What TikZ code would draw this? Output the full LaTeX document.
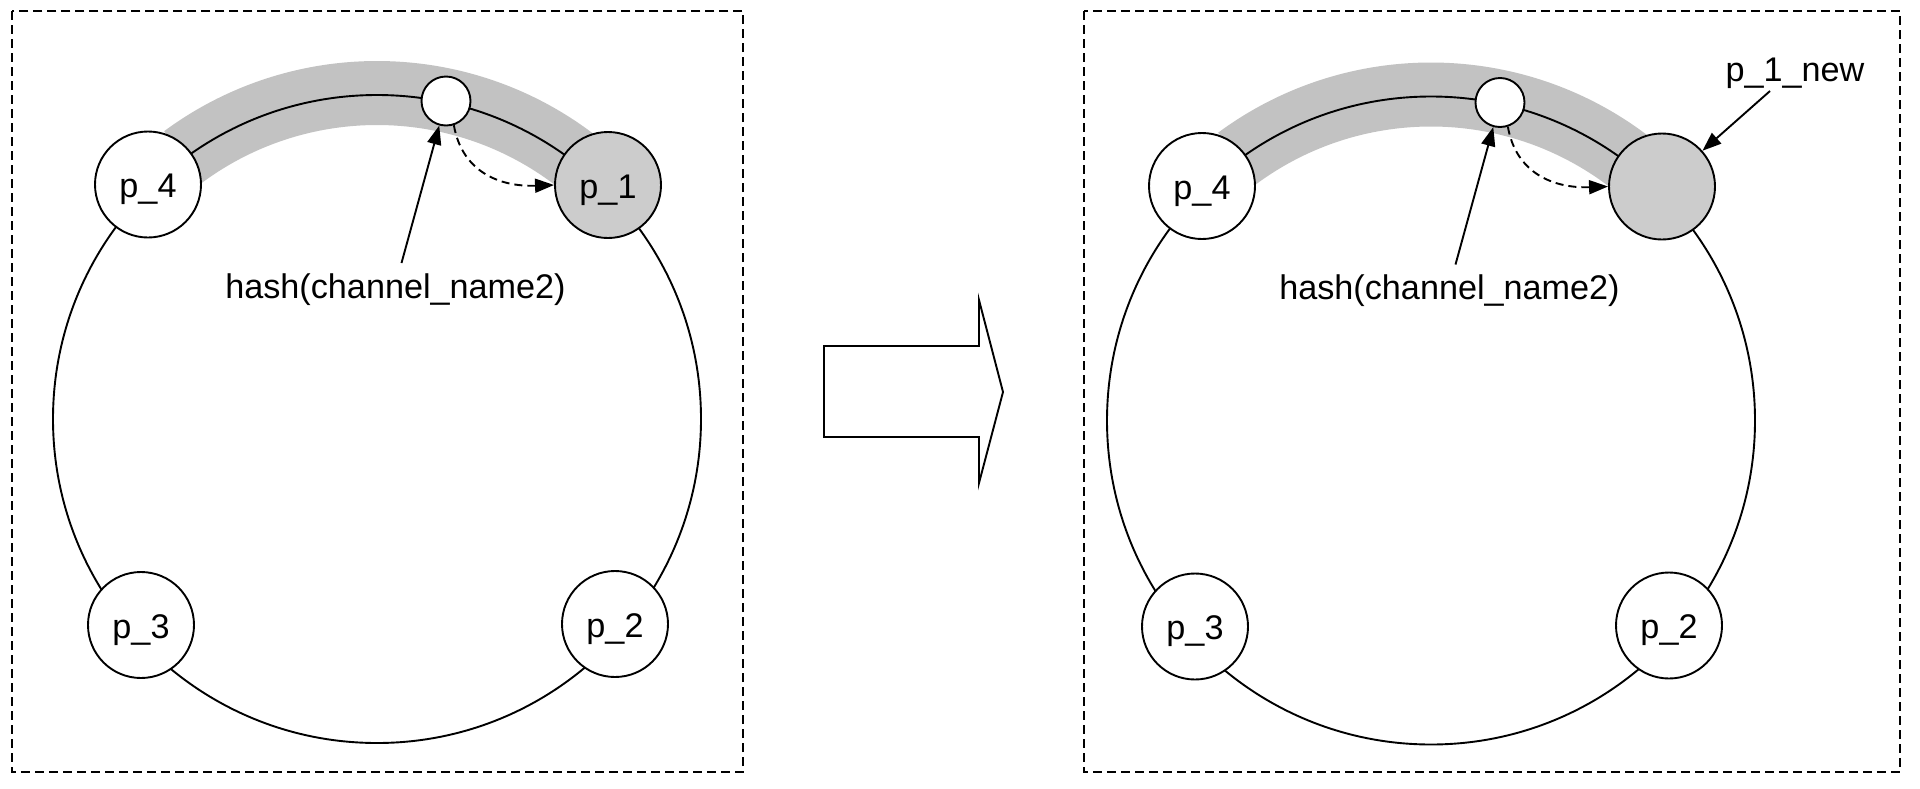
\documentclass[tikz,border=0pt]{standalone}
\usepackage{fontspec}
\setmainfont{Liberation Sans}
\usetikzlibrary{arrows.meta,calc}
\definecolor{bandgray}{RGB}{194,194,194}
\definecolor{nodegray}{RGB}{204,204,204}
\tikzset{
 frame/.style={draw, line width=1.9pt, dash pattern=on 9pt off 5pt},
 ring/.style={draw, line width=1.9pt},
 pnode/.style={circle, draw, line width=1.9pt, fill=white, minimum size=106pt, inner sep=0pt, text height=26pt, text depth=0pt, font=\fontsize{34.2}{40}\selectfont},
 hnode/.style={circle, draw, line width=1.9pt, fill=white, minimum size=49pt, inner sep=0pt},
 band/.style={draw=bandgray, line width=64pt},
 lbl/.style={font=\fontsize{34.2}{40}\selectfont, inner sep=0pt, anchor=base},
 arr/.style={-{Triangle[length=19pt,width=14pt]}, line width=1.9pt},
 darr/.style={arr, dash pattern=on 8pt off 5pt},
 bigarrow/.style={draw, line width=1.9pt, line join=miter},
}
\begin{document}
\begin{tikzpicture}[x=1pt,y=-1pt]
\useasboundingbox (0,0) rectangle (1920,788);
% ---------- left panel ----------
\draw[frame] (11.7,11) rectangle (743.3,771.7);
\coordinate (c1) at (377,419);
\draw[band] ($(c1)+(-126.5:326)$) arc[start angle=-126.5, end angle=-53, radius=326];
\draw[ring] (c1) circle[radius=324];
\node[pnode] (p4) at (148,184.5) {p\_4};
\node[pnode, fill=nodegray] (p1) at (608,185) {p\_1};
\node[pnode] (p3) at (141,625) {p\_3};
\node[pnode] (p2) at (615,624) {p\_2};
\node[hnode] (s1) at (446,101) {};
\node[lbl] (h1lab) at (395.5,298) {hash(channel\_name2)};
\coordinate (h1) at (401.5,263);
\draw[arr] (h1) -- (s1);
\draw[darr] (s1.-72) .. controls (462,172) and (500,187) .. (p1.west);
% ---------- big arrow ----------
\draw[bigarrow] (824,346) -- (979,346) -- (979,300) -- (1003,392) -- (979,483) -- (979,437) -- (824,437) -- cycle;
% ---------- right panel ----------
\draw[frame] (1083.7,11) rectangle (1900,771.7);
\begin{scope}[shift={(1054,1.5)}]
\coordinate (c2) at (377,419);
\draw[band] ($(c2)+(-126.5:326)$) arc[start angle=-126.5, end angle=-53, radius=326];
\draw[ring] (c2) circle[radius=324];
\node[pnode] (q4) at (148,184.5) {p\_4};
\node[pnode, fill=nodegray] (q1) at (608,185) {};
\node[pnode] (q3) at (141,625) {p\_3};
\node[pnode] (q2) at (615,624) {p\_2};
\node[hnode] (s2) at (446,101) {};
\node[lbl] (h2lab) at (395.5,298) {hash(channel\_name2)};
\coordinate (h2) at (401.5,263);
\draw[arr] (h2) -- (s2);
\draw[darr] (s2.-72) .. controls (462,172) and (500,187) .. (q1.west);
\end{scope}
\node[lbl] (newlab) at (1795,81.7) {p\_1\_new};
\coordinate (n1) at (1770,91);
\draw[arr] (n1) -- (q1);
\end{tikzpicture}
\end{document}
